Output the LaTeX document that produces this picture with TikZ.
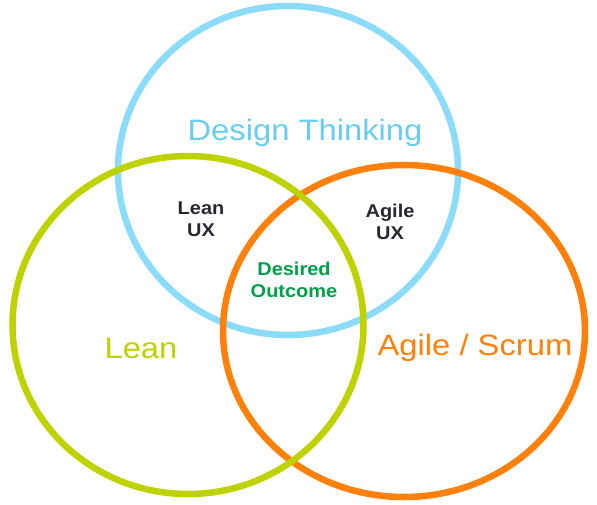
\documentclass[tikz,border=0pt]{standalone}
\usepackage{fontspec}
\setmainfont{Liberation Sans}
\usetikzlibrary{shapes.geometric}
\definecolor{dtblue}{RGB}{138,220,250}
\definecolor{dttext}{RGB}{105,205,242}
\definecolor{leangreen}{RGB}{190,210,0}
\definecolor{agileorange}{RGB}{255,128,10}
\definecolor{darktext}{RGB}{40,40,48}
\definecolor{outgreen}{RGB}{0,160,72}
\begin{document}
\begin{tikzpicture}[x=1pt,y=-1pt,
  ring/.style={line width=6.5pt},
  biglabel/.style={font=\fontsize{29.5}{34}\selectfont, xscale=1.11, inner sep=0pt},
  smalllabel/.style={font=\fontsize{18.5}{22.5}\selectfont\bfseries, xscale=1.08, align=center, inner sep=0pt}]
\useasboundingbox (0,0) rectangle (597,504);
\fill[white] (0,0) rectangle (597,504);
% circles: blue first, then orange, then green on top
\draw[ring, dtblue] (288,170.5) ellipse [x radius=170, y radius=164.5];
\draw[ring, agileorange] (404,331) ellipse [x radius=181, y radius=166];
\draw[ring, leangreen] (188,325) ellipse [x radius=175.5, y radius=169];
% labels
\node[biglabel, text=dttext] (dt) at (305,133) {Design Thinking};
\node[biglabel, text=leangreen] (lean) at (141,348) {Lean};
\node[biglabel, text=agileorange] (agile) at (475,348) {Agile / Scrum};
\node[smalllabel, text=darktext] (leanux) at (201,219) {Lean\\UX};
\node[smalllabel, text=darktext] (agileux) at (390,222) {Agile\\UX};
\node[smalllabel, text=outgreen] (outcome) at (294,280) {Desired\\Outcome};
\end{tikzpicture}
\end{document}
